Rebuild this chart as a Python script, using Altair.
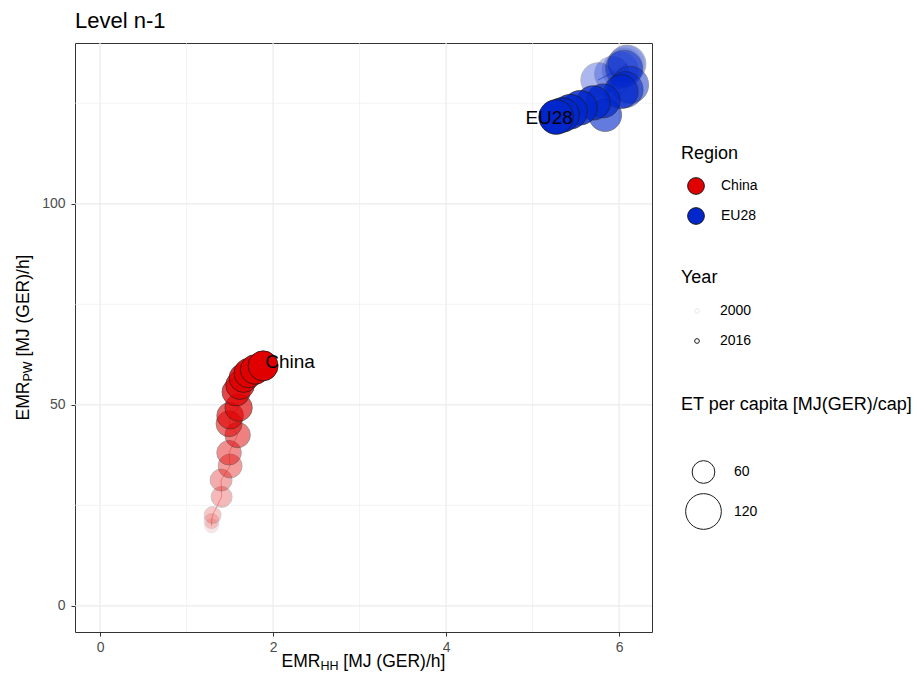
import altair as alt
import pandas as pd

FONT = "Liberation Sans, Arial, sans-serif"

# ---- data ----
years = list(range(2000, 2017))
china_emr_hh = [1.289, 1.289, 1.301, 1.405, 1.399, 1.503, 1.491, 1.590, 1.491, 1.503,
                1.601, 1.572, 1.618, 1.659, 1.717, 1.792, 1.884]
china_emr_pw = [19.9, 21.1, 22.6, 27.1, 31.3, 34.8, 38.1, 42.5, 45.3, 47.3,
                49.3, 53.2, 54.9, 56.7, 57.9, 58.8, 59.7]
china_et = [34.7, 37.0, 42.1, 54.1, 57.5, 64.8, 67.1, 70.3, 72.7, 75.2,
            78.6, 81.3, 83.9, 85.8, 87.6, 88.5, 90.4]
eu_emr_hh = [6.081, 6.058, 6.012, 5.919, 5.757, 6.092, 6.058, 6.127, 6.069, 5.838,
             6.023, 5.815, 5.699, 5.549, 5.434, 5.341, 5.272]
eu_emr_pw = [134.8, 134.3, 133.3, 132.3, 130.8, 134.8, 133.6, 129.6, 128.4, 122.1,
             127.9, 125.6, 125.1, 123.9, 122.9, 122.1, 121.6]
eu_et = [121.7, 121.7, 121.7, 116.1, 113.9, 131.1, 127.5, 127.5, 121.7, 105.4,
         110.7, 110.0, 112.0, 113.0, 114.0, 114.0, 114.0]

regions = ["China", "EU28"]
region_colors = ["#E00000", "#0026CC"]
x_major = [0, 2, 4, 6]
x_minor = [1, 3, 5]
y_major = [0, 50, 100]
y_minor = [25, 75, 125]
year_breaks = [2000, 2016]
size_breaks = [60, 120]
title_text = ["Level n-1"]

df = pd.DataFrame({
    "region": ["China"] * len(years) + ["EU28"] * len(years),
    "year": years + years,
    "hh": china_emr_hh + eu_emr_hh,
    "pw": china_emr_pw + eu_emr_pw,
    "et": china_et + eu_et,
})

W, H = 577, 589
xs = alt.Scale(domain=[-0.29, 6.38], nice=False, zero=False)
ys = alt.Scale(domain=[-6.5, 140], nice=False, zero=False)

ax_common = dict(grid=False, domain=False, ticks=True, tickColor="#333333", tickSize=4,
                 tickWidth=1, labelColor="#4D4D4D", labelFontSize=14, labelFont=FONT,
                 title=None, format="d")
ax_x = alt.Axis(values=x_major, labelPadding=4, **ax_common)
ax_y = alt.Axis(values=y_major, labelPadding=6, **ax_common)

def vgrid(vals, w):
    return alt.Chart(pd.DataFrame({"v": vals})).mark_rule(color="#EBEBEB", strokeWidth=w).encode(
        x=alt.X("v:Q", scale=xs, axis=ax_x))

def hgrid(vals, w):
    return alt.Chart(pd.DataFrame({"v": vals})).mark_rule(color="#EBEBEB", strokeWidth=w).encode(
        y=alt.Y("v:Q", scale=ys, axis=ax_y))

grid = vgrid(x_minor, 0.6) + hgrid(y_minor, 0.6) + vgrid(x_major, 1.2) + hgrid(y_major, 1.2)

color_scale = alt.Scale(domain=regions, range=region_colors)

def path(name, col):
    return alt.Chart(df).transform_filter(alt.datum.region == name).mark_line(
        strokeWidth=1, opacity=0.3, color=col).encode(
        x=alt.X("hh:Q", scale=xs, axis=ax_x),
        y=alt.Y("pw:Q", scale=ys, axis=ax_y),
        order="year:Q",
    )

paths = path(regions[0], region_colors[0]) + path(regions[1], region_colors[1])

leg_common = dict(orient="none", titleFontSize=18, titleFont=FONT, titleFontWeight="normal",
                  titleColor="black", labelFontSize=14, labelFont=FONT, labelColor="black",
                  padding=0, symbolType="circle", symbolStrokeColor="#1a1a1a", symbolStrokeWidth=1,
                  titleLimit=400)

points = alt.Chart(df).mark_circle(stroke="#1a1a1a", strokeWidth=0.8).encode(
    x=alt.X("hh:Q", scale=xs, axis=ax_x),
    y=alt.Y("pw:Q", scale=ys, axis=ax_y),
    fill=alt.Fill("region:N", scale=color_scale,
                  legend=alt.Legend(title="Region", legendX=606, legendY=102, symbolSize=280,
                                    symbolOpacity=1, symbolOffset=6, labelOffset=16,
                                    titlePadding=14, rowPadding=8, **leg_common)),
    opacity=alt.Opacity("year:Q", scale=alt.Scale(domain=[2000, 2016], range=[0.1, 1]),
                        legend=alt.Legend(title="Year", legendX=606, legendY=226, values=year_breaks,
                                          format="d", symbolSize=22, symbolFillColor="transparent",
                                          symbolOffset=9, labelOffset=16, titlePadding=17,
                                          rowPadding=16, **leg_common)),
    size=alt.Size("et:Q", scale=alt.Scale(domain=[30, 140], range=[135.5, 1527]),
                  legend=alt.Legend(title="ET per capita [MJ(GER)/cap]", legendX=606, legendY=353,
                                    values=size_breaks, symbolFillColor="transparent",
                                    symbolOpacity=1, symbolOffset=4, labelOffset=12,
                                    titlePadding=46, rowPadding=5, **leg_common)),
    order=alt.Order("year:Q"),
)

def region_label(name, dx, dy):
    return alt.Chart(df).transform_filter(
        (alt.datum.region == name) & (alt.datum.year == 2016)
    ).mark_text(fontSize=19, font=FONT, color="black", align="center", baseline="middle",
                dx=dx, dy=dy).encode(
        x=alt.X("hh:Q", scale=xs, axis=ax_x),
        y=alt.Y("pw:Q", scale=ys, axis=ax_y),
        text="region:N",
    )

labels = region_label("China", 27, -4) + region_label("EU28", -7, 1)

def txt(s, x, y, size, align, angle=0, dy=0):
    return alt.Chart(pd.DataFrame({"t": [s]})).mark_text(
        align=align, baseline="alphabetic", fontSize=size, font=FONT, color="black",
        angle=angle, dy=dy).encode(x=alt.value(x), y=alt.value(y), text="t:N")

# x-axis title: EMR_HH [MJ (GER)/h]
XB = 624
xt = (txt("EMR", 245.4, XB, 17.5, "right")
      + txt("HH", 245.4, XB, 12.5, "left", dy=3)
      + txt("[MJ (GER)/h]", 268.3, XB, 17.5, "left"))
# y-axis title: EMR_PW [MJ (GER)/h]
yt = (txt("EMR", -46, 338.6, 17.5, "right", angle=270)
      + txt("PW", -46, 338.6, 12.5, "left", angle=270, dy=3)
      + txt("[MJ (GER)/h]", -46, 313.6, 17.5, "left", angle=270))

title = alt.Chart(pd.DataFrame({"t": title_text})).mark_text(
    align="left", baseline="alphabetic", fontSize=22, font=FONT, color="black").encode(
    x=alt.value(0), y=alt.value(-15), text="t:N")

chart = alt.layer(grid, paths, points, labels, xt, yt, title).properties(
    width=W, height=H,
    autosize=alt.AutoSizeParams(type="none"),
    padding={"left": 67, "top": 35, "right": 262, "bottom": 42},
    background="white",
).configure_view(stroke="#333333", strokeWidth=1)

chart.save("out.html", embed_options={"renderer": "svg", "actions": False})
